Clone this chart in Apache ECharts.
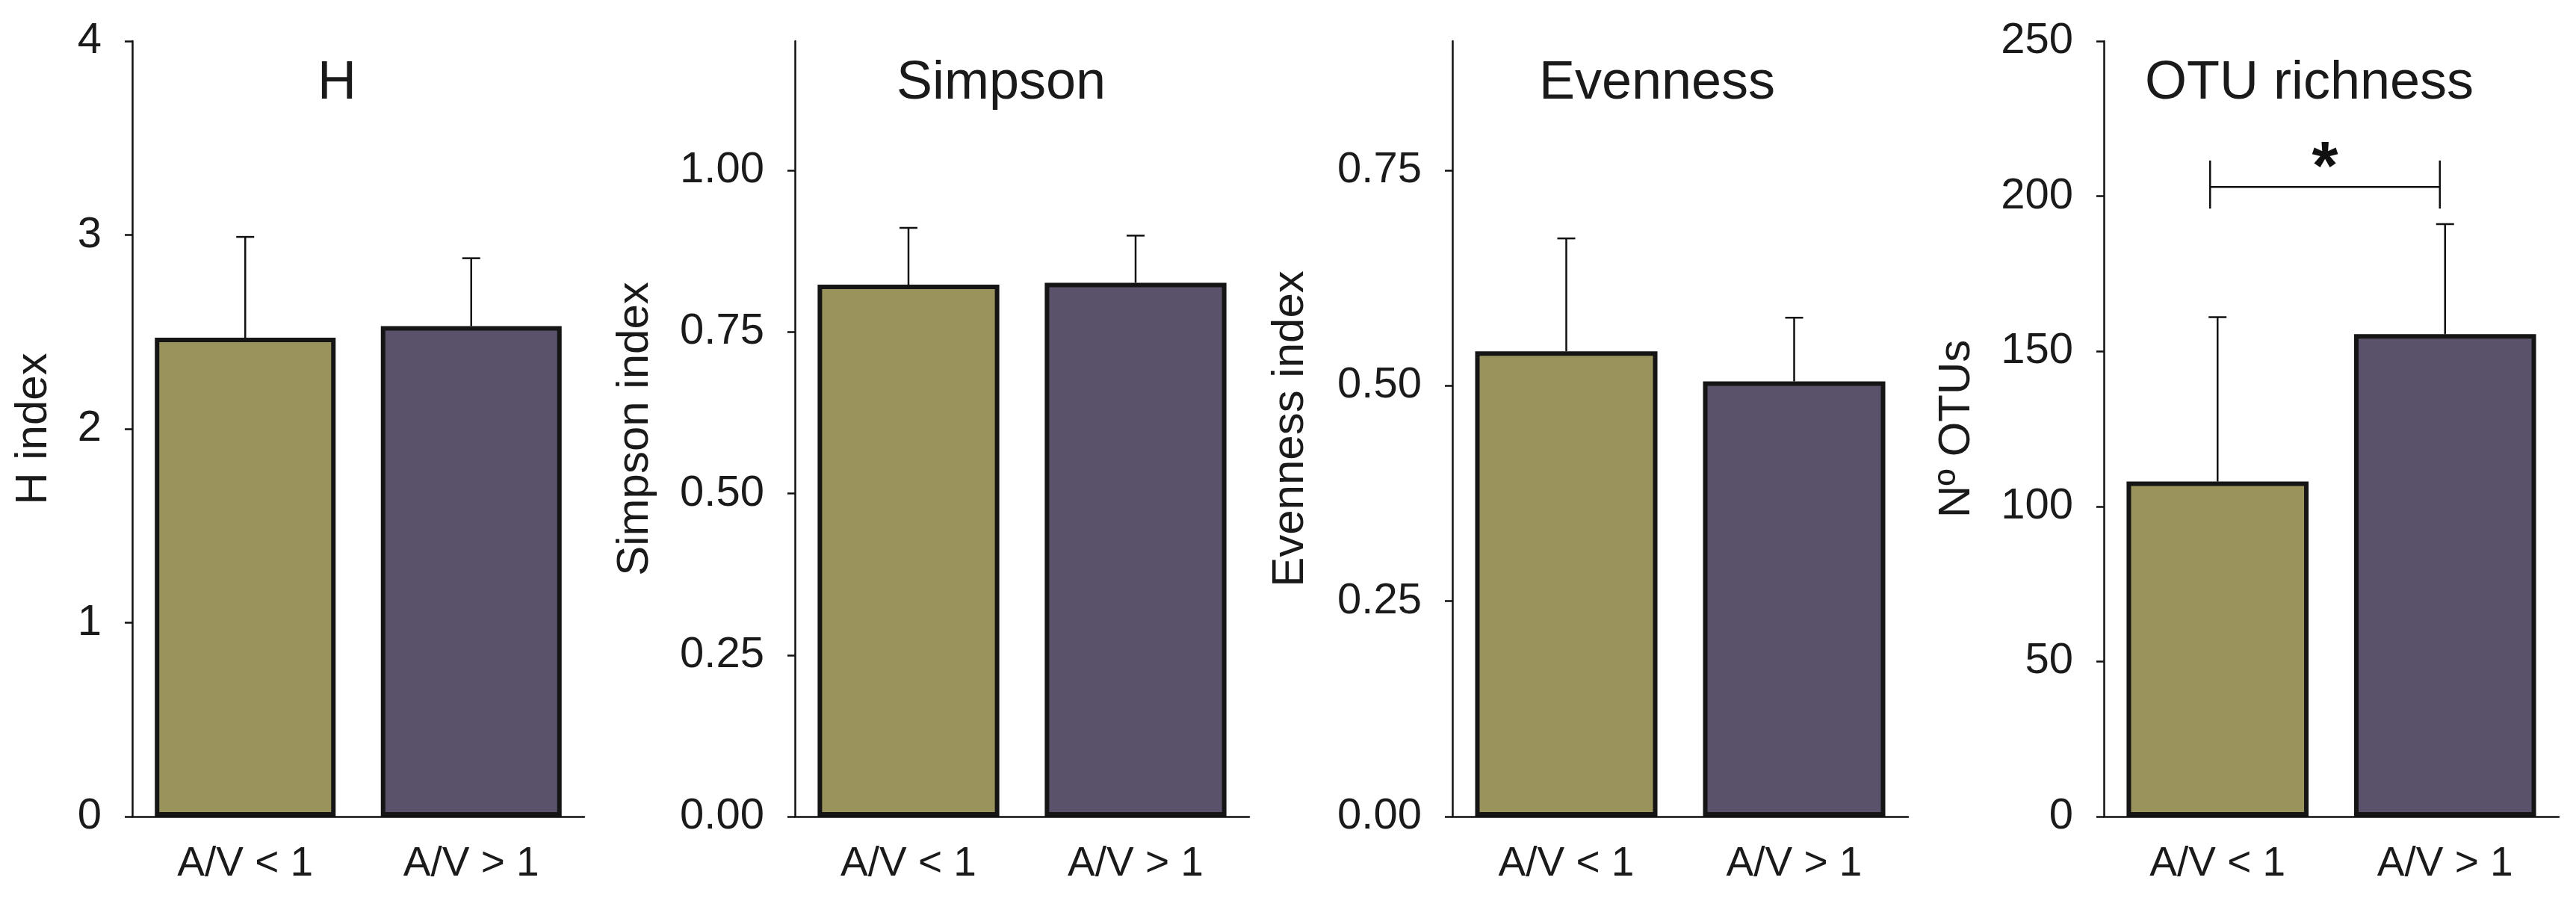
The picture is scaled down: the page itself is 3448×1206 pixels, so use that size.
<!DOCTYPE html>
<html><head><meta charset="utf-8">
<script src="https://cdn.jsdelivr.net/npm/echarts@6/dist/echarts.min.js"></script>
<style>html,body{margin:0;padding:0;background:#fff}#c{width:3448px;height:1206px}</style>
</head><body><div id="c"></div>
<script>
// ---- data ----
const categories = ['A/V < 1', 'A/V > 1'];
const panelTitles = ['H', 'Simpson', 'Evenness', 'OTU richness'];
const axisNames = ['H index', 'Simpson index', 'Evenness index', 'Nº OTUs'];
const hMeans = [2.47, 2.53];
const hErrTops = [2.99, 2.88];
const simpsonMeans = [0.823, 0.826];
const simpsonErrTops = [0.911, 0.899];
const evennessMeans = [0.54, 0.505];
const evennessErrTops = [0.671, 0.579];
const otuMeans = [108, 155.5];
const otuErrTops = [161, 191];
const hTicks = [0, 1, 2, 3, 4];
const simpsonTicks = [0, 0.25, 0.5, 0.75, 1.0];
const evennessTicks = [0, 0.25, 0.5, 0.75];
const otuTicks = [0, 50, 100, 150, 200, 250];
const axisMax = [4, 1.2, 0.9, 250];
const labelDecimals = [0, 2, 2, 0];
const bracketValues = [203, 196, 211.5]; // line level, cap bottom, cap top
const significance = '*';

// ---- styling ----
const FONT = "'Liberation Sans', Arial, sans-serif";
const TXT = '#1a1a1a';
const barColors = ['#9a935c', '#59526a'];
const grids = [
  {left: 177, width: 605},
  {left: 1064, width: 608},
  {left: 1944, width: 610},
  {left: 2816, width: 609}
];
const nameGaps = [102, 184, 187, 167];
const titleX = [451, 1340, 2218, 3091];
const means = [hMeans, simpsonMeans, evennessMeans, otuMeans];
const errs = [hErrTops, simpsonErrTops, evennessErrTops, otuErrTops];
const ticks = [hTicks, simpsonTicks, evennessTicks, otuTicks];

const option = {
  animation: false,
  backgroundColor: '#fff',
  grid: grids.map(g => ({left: g.left, width: g.width, top: 55, bottom: 113})),
  xAxis: grids.map((g, i) => ({
    type: 'category', gridIndex: i, data: categories,
    axisLine: {lineStyle: {color: '#111', width: 2.5}},
    axisTick: {alignWithLabel: true, length: 15, lineStyle: {color: '#111', width: 2.5}},
    axisLabel: {color: TXT, fontSize: 55, fontFamily: FONT, margin: 36}
  })),
  yAxis: grids.map((g, i) => ({
    type: 'value', gridIndex: i, min: 0, max: axisMax[i],
    name: axisNames[i], nameLocation: 'middle', nameGap: nameGaps[i],
    nameTextStyle: {color: TXT, fontSize: 60, fontFamily: FONT},
    splitLine: {show: false},
    axisLine: {show: true, lineStyle: {color: '#111', width: 2.5}},
    axisTick: {show: true, length: 10, customValues: ticks[i], lineStyle: {color: '#111', width: 2.5}},
    axisLabel: {color: TXT, fontSize: 58, fontFamily: FONT, margin: 41, customValues: ticks[i],
      formatter: v => Number(v).toFixed(labelDecimals[i])}
  })),
  graphic: panelTitles.map((t, i) => ({
    type: 'text', x: titleX[i], y: 112,
    style: {text: t, fill: TXT, font: '72px ' + FONT, textAlign: 'center', textVerticalAlign: 'middle'}
  })),
  series: []
};

means.forEach((m, i) => {
  option.series.push({
    type: 'bar', xAxisIndex: i, yAxisIndex: i, barWidth: '80%',
    data: m.map((v, k) => ({value: v, itemStyle: {color: barColors[k]}})),
    itemStyle: {borderColor: '#151515', borderWidth: 6},
    z: 2
  });
  option.series.push({
    type: 'custom', xAxisIndex: i, yAxisIndex: i, z: 3,
    data: m.map((v, k) => [k, v, errs[i][k]]),
    encode: {x: 0, y: [1, 2]},
    renderItem: function (params, api) {
      const x = api.value(0);
      const p0 = api.coord([x, api.value(1)]);
      const p1 = api.coord([x, api.value(2)]);
      const half = 12;
      const st = {stroke: '#111', lineWidth: 2.5};
      return {type: 'group', children: [
        {type: 'line', shape: {x1: p0[0], y1: p0[1], x2: p1[0], y2: p1[1]}, style: st},
        {type: 'line', shape: {x1: p1[0] - half, y1: p1[1], x2: p1[0] + half, y2: p1[1]}, style: st}
      ]};
    }
  });
});

option.series.push({
  type: 'custom', xAxisIndex: 3, yAxisIndex: 3, z: 4,
  data: [[0, 1, bracketValues[0], bracketValues[1], bracketValues[2]]],
  encode: {x: [0, 1], y: [2, 3, 4]},
  renderItem: function (params, api) {
    const off = -10;
    const a = api.coord([api.value(0), api.value(2)]);
    const b = api.coord([api.value(1), api.value(2)]);
    const lo = api.coord([api.value(0), api.value(3)])[1];
    const hi = api.coord([api.value(0), api.value(4)])[1];
    const st = {stroke: '#111', lineWidth: 2.5};
    const ax = a[0] + off, bx = b[0] + off + 3;
    return {type: 'group', children: [
      {type: 'line', shape: {x1: ax, y1: a[1], x2: bx, y2: b[1]}, style: st},
      {type: 'line', shape: {x1: ax, y1: lo, x2: ax, y2: hi}, style: st},
      {type: 'line', shape: {x1: bx, y1: lo, x2: bx, y2: hi}, style: st},
      {type: 'text', x: (ax + bx) / 2, y: a[1] - 22,
        style: {text: significance, fill: '#111', font: 'bold 90px ' + FONT, textAlign: 'center', textVerticalAlign: 'middle'}}
    ]};
  }
});

const chart = echarts.init(document.getElementById('c'));
chart.setOption(option);
</script></body></html>
